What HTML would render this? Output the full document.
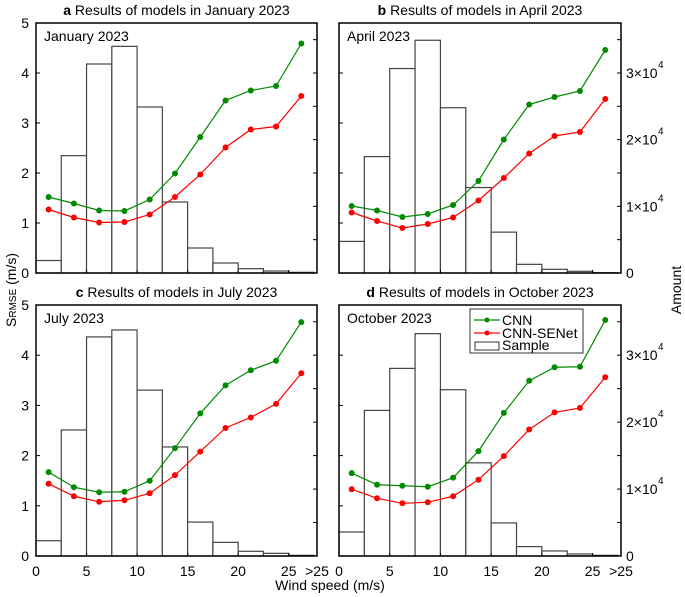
<!DOCTYPE html>
<html><head><meta charset="utf-8">
<style>
html,body{margin:0;padding:0;background:#fff;}
svg{display:block;font-family:"Liberation Sans",Arial,sans-serif;}
</style></head>
<body>
<svg id="chart" width="685" height="597" viewBox="0 0 685 597"></svg>
<script>
// Data
const categories = ["0-2.5","2.5-5","5-7.5","7.5-10","10-12.5","12.5-15","15-17.5","17.5-20","20-22.5","22.5-25",">25"];
const binCenters = [1.25,3.75,6.25,8.75,11.25,13.75,16.25,18.75,21.25,23.75,26.25];
const xTickValues = [0,5,10,15,20,25];
const xTickLabels = ["0","5","10","15","20","25"];
const yTickValues = [1,2,3,4,5];
const yLeftLabels = ["1","2","3","4","5"];
const rightTickValues = [0,10000,20000,30000];
const rightTickLabels = ["0","1×10","2×10","3×10"];
const panelTitles = ["Results of models in January 2023","Results of models in April 2023","Results of models in July 2023","Results of models in October 2023"];
const panelLetters = ["a","b","c","d"];
const panelMonths = ["January 2023","April 2023","July 2023","October 2023"];

const cnnJan = [1.52,1.39,1.25,1.24,1.47,1.99,2.72,3.45,3.65,3.74,4.59];
const senetJan = [1.27,1.11,1.01,1.02,1.17,1.52,1.97,2.51,2.87,2.93,3.54];
const samplesJan = [1875,17600,31350,34000,24900,10650,3750,1500,650,300,100];

const cnnApr = [1.34,1.25,1.12,1.18,1.36,1.84,2.67,3.37,3.52,3.64,4.46];
const senetApr = [1.21,1.04,0.90,0.98,1.11,1.45,1.90,2.39,2.74,2.82,3.48];
const samplesApr = [4740,17460,30670,34910,24790,12820,6130,1300,550,250,50];

const cnnJul = [1.67,1.37,1.27,1.28,1.50,2.15,2.84,3.40,3.70,3.89,4.66];
const senetJul = [1.44,1.19,1.08,1.11,1.25,1.61,2.08,2.55,2.76,3.03,3.64];
const samplesJul = [2280,18830,32730,33770,24780,16290,5070,2040,700,400,100];

const cnnOct = [1.65,1.42,1.40,1.38,1.56,2.09,2.85,3.49,3.76,3.77,4.70];
const senetOct = [1.33,1.15,1.05,1.07,1.19,1.52,1.99,2.52,2.86,2.95,3.56];
const samplesOct = [3590,21750,28030,33220,24840,13920,4940,1400,750,300,100];

const NS = "http://www.w3.org/2000/svg";
const svg = document.getElementById("chart");
function mk(tag, attrs, parent){
  const e = document.createElementNS(NS, tag);
  for (const k in attrs) e.setAttribute(k, attrs[k]);
  (parent||svg).appendChild(e);
  return e;
}
const panels = [
  {x0:36,x1:317,y0:23,y1:273,cnn:cnnJan,senet:senetJan,samples:samplesJan,left:true,right:false,bottom:false,name:"january"},
  {x0:339,x1:621,y0:23,y1:273,cnn:cnnApr,senet:senetApr,samples:samplesApr,left:false,right:true,bottom:false,name:"april"},
  {x0:36,x1:317,y0:305,y1:556,cnn:cnnJul,senet:senetJul,samples:samplesJul,left:true,right:false,bottom:true,name:"july"},
  {x0:339,x1:621,y0:305,y1:556,cnn:cnnOct,senet:senetOct,samples:samplesOct,left:false,right:true,bottom:true,name:"october"}
];
const XMAX = 27.8, YMAX = 5, RMAX = 37500;
panels.forEach((p,i)=>{
  const g = mk("g",{});
  
  
  const xs = v => p.x0 + (v/XMAX)*(p.x1-p.x0);
  const ys = v => p.y1 - (v/YMAX)*(p.y1-p.y0);
  const yr = v => p.y1 - (v/RMAX)*(p.y1-p.y0);
  p.samples.forEach((s,j)=>{
    const bx = xs(binCenters[j]-1.25), bw = xs(2.5)-xs(0);
    const r = mk("rect",{x:bx,y:yr(s),width:bw,height:p.y1-yr(s),fill:"#fff",stroke:"#444","stroke-width":1.2},g);
    
    
  });
  const fr = mk("rect",{x:p.x0,y:p.y0,width:p.x1-p.x0,height:p.y1-p.y0,fill:"none",stroke:"#000","stroke-width":1.5},g);
  
  
  yTickValues.forEach((v,k)=>{
    mk("line",{x1:p.x0,x2:p.x0+4,y1:ys(v),y2:ys(v),stroke:"#000"},g);
    if(p.left){
      const t = mk("text",{x:p.x0-7,y:ys(v)+5,"text-anchor":"end","font-size":14},g);
      t.textContent = yLeftLabels[k];
      
      
    }
  });
  if(p.left){
    const t = mk("text",{x:p.x0-7,y:p.y1+5,"text-anchor":"end","font-size":14},g);
    t.textContent = "0";
    
    
  }
  for(let v=5000; v<RMAX; v+=5000){
    mk("line",{x1:p.x1,x2:p.x1-4,y1:yr(v),y2:yr(v),stroke:"#000"},g);
  }
  if(p.right){
    rightTickValues.forEach((v,k)=>{
      const t = mk("text",{x:p.x1+5,y:yr(v)+5,"font-size":14},g);
      t.textContent = rightTickLabels[k];
      
      
      if(v>0){
        const sup = mk("text",{x:p.x1+37,y:yr(v)-5,"font-size":10},g);
        sup.textContent = "4";
        
        
      }
    });
  }
  xTickValues.forEach((v,k)=>{
    mk("line",{x1:xs(v),x2:xs(v),y1:p.y1,y2:p.y1-3,stroke:"#000"},g);
    if(p.bottom){
      const t = mk("text",{x:xs(v),y:p.y1+20,"text-anchor":"middle","font-size":14},g);
      t.textContent = xTickLabels[k];
      
      
    }
  });
  if(p.bottom){
    const t = mk("text",{x:p.x1,y:p.y1+20,"text-anchor":"middle","font-size":14},g);
    t.textContent = ">25";
    
    
  }
  [[p.cnn,"#008a00","cnn"],[p.senet,"#ff0000","cnn-senet"]].forEach(([arr,col,nm])=>{
    const pts = arr.map((v,j)=>xs(binCenters[j])+","+ys(v)).join(" ");
    const pl = mk("polyline",{points:pts,fill:"none",stroke:col,"stroke-width":1.2},g);
    
    
    arr.forEach((v,j)=>{
      const c = mk("circle",{cx:xs(binCenters[j]),cy:ys(v),r:3,fill:col},g);
      
      
    });
  });
  const tt = mk("text",{x:(p.x0+p.x1)/2,y:p.y0-8,"text-anchor":"middle","font-size":14},g);
  tt.innerHTML = '<tspan font-weight="bold">'+panelLetters[i]+'</tspan> '+panelTitles[i];
  
  
  const mt = mk("text",{x:p.x0+8,y:p.y0+18,"font-size":14},g);
  mt.textContent = panelMonths[i];
  
  
});
const yt = mk("text",{x:0,y:0,"text-anchor":"middle","font-size":14,transform:"translate(16,290) rotate(-90)"});
yt.innerHTML = 'S<tspan font-size="10">RMSE</tspan> (m/s)';


const rt = mk("text",{x:0,y:0,"text-anchor":"middle","font-size":14,transform:"translate(681,290) rotate(-90)"});
rt.textContent = "Amount";


const xt = mk("text",{x:330,y:590,"text-anchor":"middle","font-size":14});
xt.textContent = "Wind speed (m/s)";


const lg = mk("g",{});


mk("rect",{x:470,y:309,width:113,height:44,fill:"#fff",stroke:"#333","stroke-width":1},lg);
[["CNN","#008a00",324],["CNN-SENet","#ff0000",337]].forEach(([lab,col,y])=>{
  const e = mk("g",{},lg);
  
  
  mk("line",{x1:474,x2:500,y1:y-4,y2:y-4,stroke:col,"stroke-width":1.2},e);
  mk("circle",{cx:487,cy:y-4,r:2.5,fill:col},e);
  const t = mk("text",{x:502,y:y+1,"font-size":14},e);
  t.textContent = lab;
});
const se = mk("g",{},lg);


mk("rect",{x:475,y:342,width:24,height:8,fill:"#fff",stroke:"#333"},se);
const st = mk("text",{x:502,y:350,"font-size":14},se);
st.textContent = "Sample";
</script>
</body></html>
